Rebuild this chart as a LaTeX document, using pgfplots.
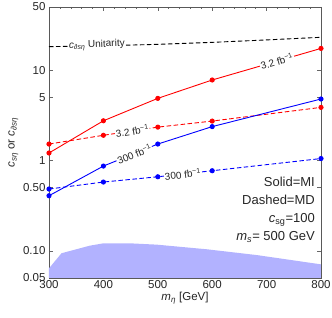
\documentclass[border=0pt]{standalone}
\usepackage{fontspec}
\setmainfont{Liberation Sans}
\usepackage{pgfplots}
\pgfplotsset{compat=1.18}
\definecolor{shade}{RGB}{178,178,255}
\begin{document}
\begin{tikzpicture}
\useasboundingbox (-49pt,-40pt) rectangle (283pt,278pt);
\begin{axis}[
  scale only axis, width=272pt, height=271pt,
  ymode=log, xmin=300, xmax=800, ymin=0.05, ymax=50,
  xtick={300,400,500,600,700,800},
  xticklabels={300,400,500,600,700,800},
  minor x tick num=4,
  ytick={0.05,0.1,0.5,1,5,10,50},
  yticklabels={0.05,0.10,0.50,1,5,10,50},
  tick align=inside,
  major tick length=4pt, minor tick length=2.2pt,
  tick style={black!60, line width=0.5pt},
  axis line style={black!65, line width=0.6pt},
  ticklabel style={font=\fontsize{11.5}{13}\selectfont, text=black!85},
  xticklabel style={yshift=1pt},
  xlabel={\textit{m}\textsubscript{\textit{η}} [GeV]},
  ylabel={\textit{c}\textsubscript{\textit{sη}} or \textit{c}\textsubscript{\textit{∂sη}}},
  label style={font=\fontsize{11.5}{13}\selectfont, text=black!85},
  xlabel style={yshift=3pt},
  ylabel style={yshift=-2pt},
  clip=true,
]
% excluded region
\addplot[fill=shade, draw=none] coordinates {
 (300,0.05) (300,0.064) (323,0.094) (375,0.114) (400,0.121) (449,0.121)
 (498,0.117) (590,0.104) (682,0.0897) (800,0.0708) (800,0.05)} -- cycle;
% unitarity
\addplot[black, line width=0.9pt, dash pattern=on 4.5pt off 2.5pt] coordinates {
 (300,18.2) (400,18.6) (500,19.3) (600,20.3) (700,21.6) (800,23.1)};
% red solid MI 3.2
\addplot[red, line width=0.9pt, mark=*, mark size=2.1pt] coordinates {
 (300,1.21) (400,2.75) (500,4.87) (600,7.78) (800,17.4)};
% red dashed MD 3.2
\addplot[red, line width=0.9pt, dash pattern=on 4.5pt off 2.5pt, mark=*, mark size=2.1pt, mark options={solid}] coordinates {
 (300,1.52) (400,1.90) (500,2.34) (600,2.73) (800,3.87)};
% blue solid MI 300
\addplot[blue, line width=0.9pt, mark=*, mark size=2.1pt] coordinates {
 (300,0.407) (400,0.867) (500,1.52) (600,2.37) (800,4.79)};
% blue dashed MD 300
\addplot[blue, line width=0.9pt, dash pattern=on 4.5pt off 2.5pt, mark=*, mark size=2.1pt, mark options={solid}] coordinates {
 (300,0.483) (400,0.577) (500,0.66) (600,0.77) (800,1.05)};
% inline labels
\tikzset{lab/.style={fill=white, inner sep=0.8pt, font=\fontsize{10}{11}\selectfont, text=black!85}}
\node[lab, rotate=16] at (axis cs:719,12.6) {3.2 fb\textsuperscript{−1}};
\node[lab, rotate=8.7] at (axis cs:453,2.12) {3.2 fb\textsuperscript{−1}};
\node[lab, rotate=22] at (axis cs:457,1.17) {300 fb\textsuperscript{−1}};
\node[lab, rotate=6.3] at (axis cs:546,0.706) {300 fb\textsuperscript{−1}};
\node[lab, rotate=2] at (axis cs:388,18.9) {\textit{c}\textsubscript{\textit{∂sη}} Unitarity};
\node[anchor=north east, align=right, font=\fontsize{13}{18}\selectfont, text=black!85, inner sep=0pt]
  at (rel axis cs:0.978,0.372) {Solid=MI\\Dashed=MD\\\textit{c}\textsubscript{sg}=100\\\textit{m}\textsubscript{\textit{s}}= 500 GeV};
\end{axis}
\end{tikzpicture}
\end{document}
